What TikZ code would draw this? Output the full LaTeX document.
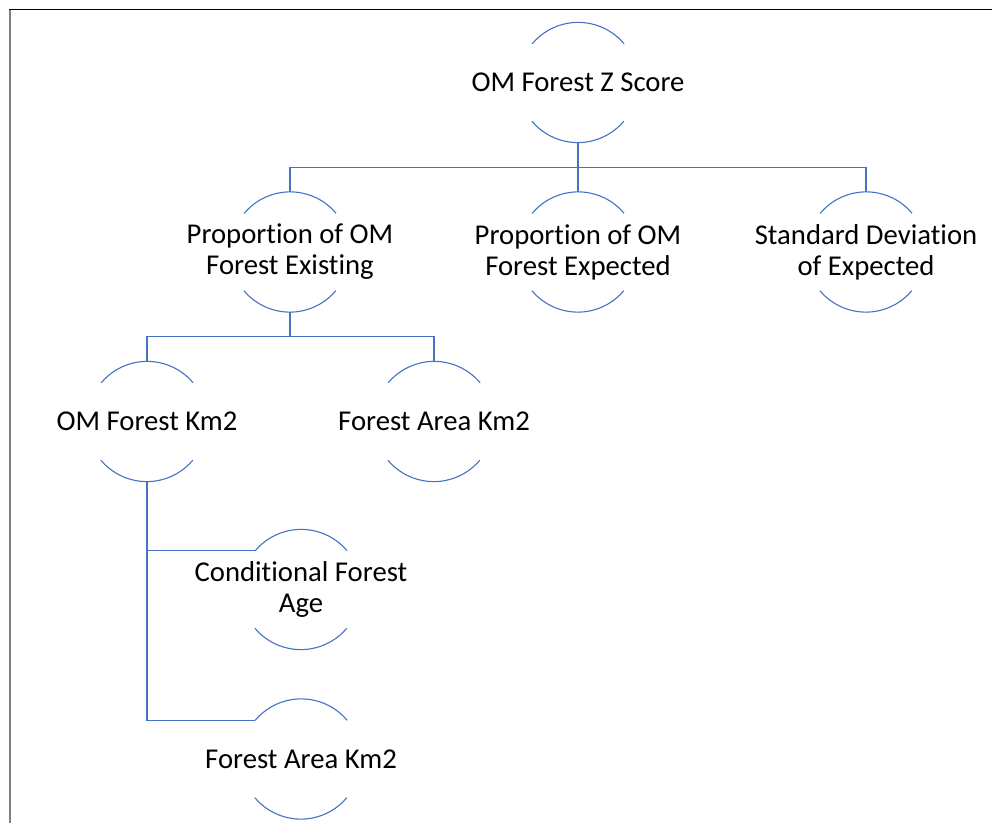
\documentclass[tikz,border=0pt]{standalone}
\usepackage{fontspec}
\setmainfont{Carlito}[Ligatures={NoCommon,NoContextual}]
\definecolor{officeblue}{HTML}{4472C4}
% keep "t" and "i" as separate glyphs
\newcommand{\ti}{t\kern0pt i}
\begin{document}
\begin{tikzpicture}[x=1pt,y=1pt,
  ring/.style={circle, minimum size=120pt, inner sep=0pt},
  caption/.style={inner sep=0pt, align=center,
    font=\fontsize{28.7}{31}\selectfont, text=black},
  link/.style={draw=officeblue, line width=1.1pt},
  arcline/.style={draw=officeblue, line width=1.1pt}]
\useasboundingbox (0,0) rectangle (992,823);
\fill[white] (0,0) rectangle (992,823);
% frame edges
\draw[black, line width=1pt] (9,813) -- (992,813);
\draw[gray, line width=2pt] (10,813) -- (10,0);

% fixed-size rings
\node[ring] (zscore) at (578,740.5) {};
\node[ring] (exist)  at (290,571) {};
\node[ring] (expect) at (578,571) {};
\node[ring] (stdev)  at (866,571) {};
\node[ring] (omkm)   at (147,401.5) {};
\node[ring] (fakm)   at (434,401.5) {};
\node[ring] (cfa)    at (301,233.5) {};
\node[ring] (fakmb)  at (301,64) {};

% texts centred on the rings
\node[caption] (zscore-t) at (zscore) {OM Forest Z Score};
\node[caption] (exist-t)  at (exist)  {Propor\ti on of OM\\Forest Exis\ti ng};
\node[caption] (expect-t) at (expect) {Propor\ti on of OM\\Forest Expected};
\node[caption] (stdev-t)  at (stdev)  {Standard Devia\ti on\\of Expected};
\node[caption] (omkm-t)   at (omkm)   {OM Forest Km2};
\node[caption] (fakm-t)   at (fakm)   {Forest Area Km2};
\node[caption] (cfa-t)    at (cfa)    {Condi\ti onal Forest\\Age};
\node[caption] (fakmb-t)  at (fakmb)  {Forest Area Km2};

% open circle outlines: upper and lower arcs only
\foreach \n in {zscore,exist,expect,stdev,omkm,fakm,cfa,fakmb}{
  \draw[arcline] (\n.40) arc[start angle=40, end angle=140, radius=60pt];
  \draw[arcline] (\n.220) arc[start angle=220, end angle=320, radius=60pt];
}

% connectors
\draw[link] (zscore.south) -- ++(0,-24.5) -| (exist.north);
\draw[link] (zscore.south) -- ++(0,-24.5) -| (stdev.north);
\draw[link] (zscore.south) -- (expect.north);
\draw[link] (exist.south) -- ++(0,-24.5) -| (omkm.north);
\draw[link] (exist.south) -- ++(0,-24.5) -| (fakm.north);
\draw[link] (omkm.south) |- (cfa.140);
\draw[link] (omkm.south) |- (fakmb.140);
\end{tikzpicture}
\end{document}
